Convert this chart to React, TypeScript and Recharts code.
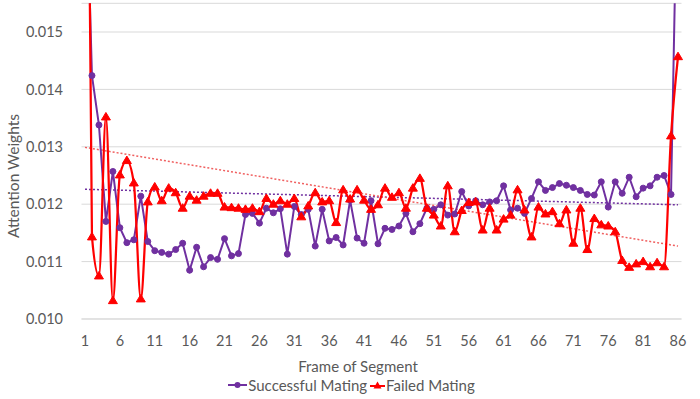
import { LineChart, Line, XAxis, YAxis, CartesianGrid, Legend, Label } from 'recharts';

const frames = [
  1, 2, 3, 4, 5, 6, 7, 8, 9, 10, 11, 12, 13, 14, 15, 16, 17, 18, 19, 20,
  21, 22, 23, 24, 25, 26, 27, 28, 29, 30, 31, 32, 33, 34, 35, 36, 37, 38, 39, 40,
  41, 42, 43, 44, 45, 46, 47, 48, 49, 50, 51, 52, 53, 54, 55, 56, 57, 58, 59, 60,
  61, 62, 63, 64, 65, 66, 67, 68, 69, 70, 71, 72, 73, 74, 75, 76, 77, 78, 79, 80,
  81, 82, 83, 84, 85, 86,
];

const successfulMating = [
  0.0185, 0.01424, 0.01338, 0.0117, 0.01257, 0.01159, 0.01133, 0.01138, 0.01214, 0.01135,
  0.01119, 0.01116, 0.01113, 0.01121, 0.01132, 0.01085, 0.01125, 0.01091, 0.01107, 0.01104,
  0.0114, 0.0111, 0.01114, 0.01182, 0.01184, 0.01167, 0.01193, 0.01185, 0.01192, 0.01113,
  0.01196, 0.01182, 0.01191, 0.01127, 0.01191, 0.01136, 0.01142, 0.01129, 0.01207, 0.01141,
  0.01132, 0.01206, 0.01131, 0.01158, 0.01156, 0.01162, 0.01184, 0.01152, 0.01166, 0.01193,
  0.01191, 0.01199, 0.01181, 0.01183, 0.01222, 0.01197, 0.01206, 0.01199, 0.01204, 0.01206,
  0.01232, 0.0119, 0.01193, 0.01184, 0.0121, 0.01239, 0.01224, 0.01229, 0.01236, 0.01233,
  0.01229, 0.01224, 0.01217, 0.01216, 0.01239, 0.01195, 0.01239, 0.01219, 0.01247, 0.01213,
  0.01228, 0.01232, 0.01247, 0.0125, 0.01217, 0.0185,
];

const failedMating = [
  0.025, 0.01143, 0.01075, 0.01352, 0.01032, 0.01251, 0.01276, 0.01237, 0.01035, 0.01204,
  0.0123, 0.01206, 0.01228, 0.0122, 0.01193, 0.01214, 0.01207, 0.01214, 0.01219, 0.01219,
  0.01195, 0.01194, 0.01193, 0.01191, 0.01193, 0.01187, 0.0121, 0.012, 0.01206, 0.012,
  0.0121, 0.01178, 0.01197, 0.0122, 0.01204, 0.01206, 0.01168, 0.01225, 0.01209, 0.01225,
  0.01207, 0.01191, 0.01199, 0.01228, 0.01212, 0.0122, 0.01193, 0.01228, 0.01245, 0.01193,
  0.01181, 0.01162, 0.01232, 0.01152, 0.01189, 0.01203, 0.01204, 0.01155, 0.01193, 0.01155,
  0.01174, 0.01181, 0.01225, 0.0119, 0.01143, 0.01195, 0.01183, 0.01187, 0.01166, 0.0119,
  0.01132, 0.01193, 0.01121, 0.01175, 0.01164, 0.01162, 0.01152, 0.01102, 0.0109, 0.01096,
  0.011, 0.01091, 0.01098, 0.01091, 0.01319, 0.01457,
];

// linear trendline values at first and last frame
const successfulTrend = [0.01226, 0.01199];
const failedTrend = [0.01299, 0.01127];

const xTicks = [1, 6, 11, 16, 21, 26, 31, 36, 41, 46, 51, 56, 61, 66, 71, 76, 81, 86];
const yTicks = [0.01, 0.011, 0.012, 0.013, 0.014, 0.015];

const PURPLE = '#7030A0';
const RED = '#FF0000';
const TEXT = '#595959';
const FONT = 'Lato, "Open Sans", sans-serif';

const last = frames.length - 1;
const data = frames.map((frame, i) => ({
  frame,
  successful: successfulMating[i],
  failed: failedMating[i],
  successfulTrend: i === 0 ? successfulTrend[0] : i === last ? successfulTrend[1] : null,
  failedTrend: i === 0 ? failedTrend[0] : i === last ? failedTrend[1] : null,
}));

const Triangle = (props: any) => {
  const { cx, cy, index } = props;
  if (cx == null || cy == null) return <g key={`t-${index}`} />;
  return (
    <path
      key={`t-${index}`}
      d={`M${cx},${cy - 4.5} L${cx + 4.5},${cy + 3} L${cx - 4.5},${cy + 3} Z`}
      fill={RED}
      stroke={RED}
      strokeWidth={1}
    />
  );
};

const renderLegend = () => (
  <div
    style={{
      display: 'flex',
      justifyContent: 'center',
      alignItems: 'center',
      fontFamily: FONT,
      fontSize: 15,
      color: TEXT,
      height: 20,
      paddingLeft: 12,
      marginTop: -4,
    }}
  >
    <svg width={19} height={10}>
      <line x1={0} y1={5} x2={19} y2={5} stroke={PURPLE} strokeWidth={2} />
      <circle cx={9.5} cy={5} r={3} fill={PURPLE} />
    </svg>
    <span style={{ marginLeft: 1, marginRight: 3 }}>Successful Mating</span>
    <svg width={15} height={10}>
      <line x1={0} y1={6} x2={15} y2={6} stroke={RED} strokeWidth={2} />
      <path d="M7.5,1.5 L11.5,8.5 L3.5,8.5 Z" fill={RED} />
    </svg>
    <span style={{ marginLeft: 1 }}>Failed Mating</span>
  </div>
);

export default function App() {
  return (
    <div style={{ position: 'absolute', left: 0, top: 0, width: 700, height: 399, background: '#fff' }}>
      <LineChart
        width={700}
        height={399}
        data={data}
        margin={{ top: 3.3, right: 18.5, left: 9.5, bottom: 0 }}
      >
        <CartesianGrid horizontal vertical={false} stroke="#D9D9D9" />
        <XAxis
          dataKey="frame"
          type="number"
          domain={[0.5, 86.5]}
          ticks={xTicks}
          interval={0}
          tickLine={false}
          tickSize={0}
          tickMargin={17}
          height={60}
          axisLine={{ stroke: '#D9D9D9' }}
          tick={{ fill: TEXT, fontSize: 14.5, fontFamily: FONT }}
        >
          <Label
            content={() => (
              <text
                x={358}
                y={366}
                textAnchor="middle"
                dominantBaseline="central"
                fill={TEXT}
                fontSize={15}
                fontFamily={FONT}
              >
                Frame of Segment
              </text>
            )}
          />
        </XAxis>
        <YAxis
          type="number"
          domain={[0.01, 0.0155]}
          ticks={yTicks}
          allowDataOverflow
          width={72}
          tickLine={false}
          tickSize={0}
          tickMargin={18.5}
          axisLine={false}
          tickFormatter={(v: number) => v.toFixed(3)}
          tick={{ fill: TEXT, fontSize: 14.5, fontFamily: FONT }}
        >
          <Label
            content={() => (
              <text
                transform="translate(13,176) rotate(-90)"
                textAnchor="middle"
                dominantBaseline="central"
                fill={TEXT}
                fontSize={15.5}
                fontFamily={FONT}
              >
                Attention Weights
              </text>
            )}
          />
        </YAxis>
        <Legend verticalAlign="bottom" align="center" height={20} content={renderLegend} />
        <Line
          dataKey="successfulTrend"
          stroke={PURPLE}
          strokeWidth={1.5}
          strokeDasharray="2 2"
          dot={false}
          connectNulls
          isAnimationActive={false}
        />
        <Line
          dataKey="failedTrend"
          stroke="#F06060"
          strokeWidth={1.5}
          strokeDasharray="2 2"
          dot={false}
          connectNulls
          isAnimationActive={false}
        />
        <Line
          dataKey="successful"
          stroke={PURPLE}
          strokeWidth={2}
          dot={{ r: 3, fill: PURPLE, stroke: PURPLE, strokeWidth: 1 }}
          isAnimationActive={false}
        />
        <Line
          dataKey="failed"
          type="monotone"
          stroke={RED}
          strokeWidth={2.25}
          dot={Triangle}
          isAnimationActive={false}
        />
      </LineChart>
    </div>
  );
}
